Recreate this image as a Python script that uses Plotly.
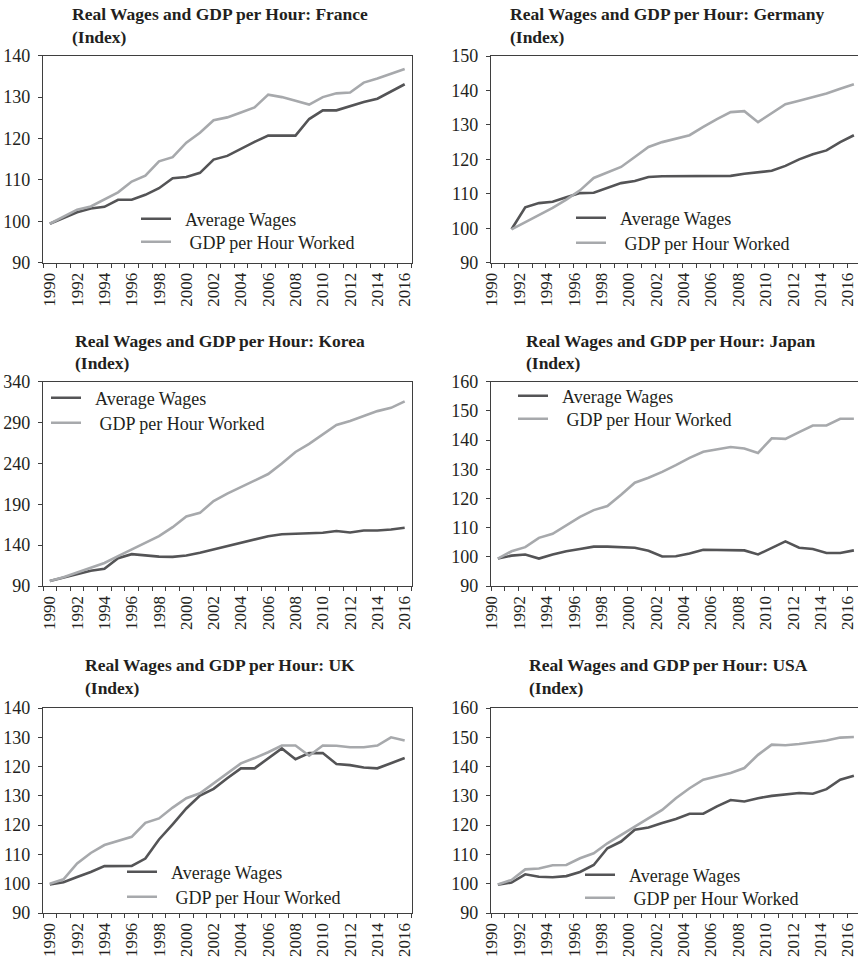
import plotly.graph_objects as go

years = list(range(1990, 2017))
years_de = list(range(1991, 2017))

france_wages = [99.4, 100.8, 102.2, 103.1, 103.5, 105.2, 105.2, 106.4, 108.0, 110.4, 110.7, 111.7, 114.9, 115.8,
                117.6, 119.2, 120.7, 120.7, 120.7, 124.7, 126.8, 126.8, 127.8, 128.8, 129.6, 131.3, 133.1]
france_gdp = [99.4, 101.2, 102.8, 103.6, 105.3, 107.0, 109.6, 111.0, 114.5, 115.5, 119.0, 121.4, 124.4, 125.1,
              126.3, 127.5, 130.6, 130.0, 129.1, 128.2, 130.0, 130.9, 131.1, 133.5, 134.5, 135.7, 136.8]

germany_wages = [99.7, 106.1, 107.3, 107.7, 109.0, 110.2, 110.3, 111.8, 113.1, 113.7, 114.9, 115.1, 115.1,
                 115.1, 115.0, 115.0, 115.2, 115.8, 116.2, 116.7, 118.1, 120.0, 121.5, 122.6, 125.0, 127.0]
germany_gdp = [99.7, 101.8, 103.7, 105.9, 108.3, 111.0, 114.6, 116.1, 117.8, 120.7, 123.6, 125.0, 126.0,
               127.0, 129.4, 131.7, 133.7, 134.0, 130.8, 133.3, 136.0, 137.0, 138.0, 139.1, 140.5, 141.8]

korea_wages = [96.2, 100.4, 104.9, 108.7, 111.1, 124.0, 129.0, 127.3, 126.0, 125.7, 127.3, 130.6, 134.8, 138.9,
               143.0, 147.2, 150.9, 153.4, 153.8, 154.3, 155.1, 157.2, 155.5, 158.0, 158.0, 159.2, 161.3]
korea_gdp = [96.2, 100.8, 106.6, 112.4, 118.2, 126.5, 134.8, 142.2, 151.0, 162.0, 175.0, 179.5, 194.0, 203.0,
             210.7, 219.0, 227.0, 240.0, 254.0, 264.0, 276.0, 287.0, 292.0, 298.0, 304.0, 308.0, 316.0]

japan_wages = [99.4, 100.4, 100.8, 99.4, 100.8, 101.9, 102.7, 103.5, 103.5, 103.4, 103.1, 102.1, 100.1, 100.2,
               101.1, 102.4, 102.3, 102.2, 102.2, 100.8, 103.1, 105.3, 103.1, 102.7, 101.3, 101.3, 102.2]
japan_gdp = [99.4, 101.9, 103.3, 106.5, 107.9, 110.9, 113.7, 116.0, 117.4, 121.3, 125.4, 127.1, 129.1, 131.4,
             133.9, 136.0, 136.8, 137.6, 137.1, 135.6, 140.6, 140.4, 142.7, 145.0, 145.0, 147.3, 147.3]

# UK values are given in the panel's axis units (its axis spans 90-160 with the printed labels below)
uk_wages = [99.7, 100.5, 102.3, 104.0, 106.0, 106.1, 106.1, 108.6, 115.1, 120.3, 125.7, 130.1, 132.4, 136.0,
            139.4, 139.4, 142.9, 146.2, 142.5, 144.6, 144.6, 140.9, 140.5, 139.7, 139.4, 141.1, 142.9]
uk_gdp = [100.0, 101.5, 106.9, 110.5, 113.2, 114.5, 116.0, 120.8, 122.3, 126.0, 129.2, 130.9, 134.3, 137.7,
          141.1, 142.9, 144.9, 147.2, 147.2, 143.7, 147.2, 147.1, 146.6, 146.6, 147.2, 150.0, 148.9]
uk_tickvals = [90, 100, 110, 120, 130, 140, 150, 160]
uk_ticktext = ["90", "100", "110", "120", "130", "120", "130", "140"]

usa_wages = [99.7, 100.4, 103.2, 102.4, 102.2, 102.6, 104.0, 106.4, 112.1, 114.4, 118.4, 119.2, 120.7, 122.1,
             123.9, 123.9, 126.4, 128.6, 128.1, 129.2, 130.0, 130.4, 131.0, 130.7, 132.3, 135.5, 136.9]
usa_gdp = [99.7, 101.3, 104.9, 105.2, 106.3, 106.4, 108.7, 110.4, 113.8, 116.7, 119.7, 122.4, 125.2, 129.2,
           132.6, 135.5, 136.6, 137.8, 139.5, 144.0, 147.5, 147.3, 147.7, 148.3, 148.9, 149.9, 150.1]

countries = ["France", "Germany", "Korea", "Japan", "UK", "USA"]
series_names = ["Average Wages", "GDP per Hour Worked"]
x_labels = [str(y) for y in range(1990, 2017, 2)]

W, H = 858, 960
FONT = "Liberation Serif, DejaVu Serif, serif"
TXT = "#231f20"
DARK = "#545456"
LIGHT = "#a7a9ac"
AX = "#3f3f3f"

def px(x):
    return x / W

def py(y):
    return 1 - y / H

panels = [
    dict(c="France", x=years, w=france_wages, g=france_gdp, xd=(43, 411.5), yd=(55.7, 262.7),
         xr=[1989.5, 2016.5], yr=[90, 140], tv=list(range(90, 141, 10)), tt=None,
         leg=(143, 219, 242), tit=(70, 14, 37), shift=0),
    dict(c="Germany", x=years_de, w=germany_wages, g=germany_gdp, xd=(491, 858), yd=(56, 262.7),
         xr=[1989.5, 2016.3], yr=[90, 150], tv=list(range(90, 151, 10)), tt=None,
         leg=(578, 218, 243), tit=(508, 14, 37), shift=-6),
    dict(c="Korea", x=years, w=korea_wages, g=korea_gdp, xd=(43, 411.5), yd=(381.7, 586),
         xr=[1989.5, 2016.5], yr=[90, 340], tv=list(range(90, 341, 50)), tt=None,
         leg=(53, 398, 423), tit=(73, 341, 363), shift=0),
    dict(c="Japan", x=years, w=japan_wages, g=japan_gdp, xd=(491, 858), yd=(381.7, 586),
         xr=[1989.5, 2016.3], yr=[90, 160], tv=list(range(90, 161, 10)), tt=None,
         leg=(520, 396, 419), tit=(524, 341, 363), shift=-6),
    dict(c="UK", x=years, w=uk_wages, g=uk_gdp, xd=(43, 411.5), yd=(708, 913),
         xr=[1989.5, 2016.5], yr=[90, 160], tv=uk_tickvals, tt=uk_ticktext,
         leg=(129, 872, 897), tit=(83, 665, 688), shift=0),
    dict(c="USA", x=years, w=usa_wages, g=usa_gdp, xd=(491, 858), yd=(708, 913),
         xr=[1989.5, 2016.3], yr=[90, 160], tv=list(range(90, 161, 10)), tt=None,
         leg=(587, 875, 898), tit=(527, 665, 688), shift=-6),
]

fig = go.Figure()
layout = dict(width=W, height=H, margin=dict(l=0, r=0, t=0, b=0, autoexpand=False),
              paper_bgcolor="white", plot_bgcolor="white",
              font=dict(family=FONT, color=TXT, size=18), showlegend=True, annotations=[])

NB = "\u00a0"
for i, p in enumerate(panels, start=1):
    sfx = "" if i == 1 else str(i)
    lg_w = "legend" if i == 1 else f"legend{2 * i - 1}"
    lg_g = f"legend{2 * i}"
    fig.add_trace(go.Scatter(x=p["x"], y=p["w"], mode="lines", name=NB * 2 + series_names[0],
                             line=dict(color=DARK, width=2.6), xaxis="x" + sfx, yaxis="y" + sfx,
                             legend=lg_w, hoverinfo="skip"))
    fig.add_trace(go.Scatter(x=p["x"], y=p["g"], mode="lines", name=NB * 3 + series_names[1],
                             line=dict(color=LIGHT, width=2.6), xaxis="x" + sfx, yaxis="y" + sfx,
                             legend=lg_g, hoverinfo="skip"))
    xa = dict(domain=[px(p["xd"][0]), px(p["xd"][1])], anchor="y" + sfx, range=p["xr"],
              tickmode="array", tickvals=list(range(1990, 2017, 2)), ticktext=x_labels,
              tickangle=-90, ticks="", tickfont=dict(size=17, family=FONT, color=TXT),
              showline=True, linecolor=AX, linewidth=1.3, mirror=True, showgrid=False, zeroline=False,
              minor=dict(tickmode="linear", tick0=1990.5, dtick=1, ticks="outside", ticklen=4,
                         tickcolor=AX, tickwidth=1.2, showgrid=False),
              ticklabelstandoff=2, ticklabelshift=p["shift"], automargin=False, ticklabeloverflow="allow")
    ya = dict(domain=[py(p["yd"][1]), py(p["yd"][0])], anchor="x" + sfx, range=p["yr"],
              tickmode="array", tickvals=p["tv"], ticktext=p["tt"] if p["tt"] else [str(v) for v in p["tv"]],
              ticks="outside", ticklen=4, tickcolor=AX, tickwidth=1.2,
              tickfont=dict(size=18, family=FONT, color=TXT),
              showline=True, linecolor=AX, linewidth=1.3, mirror=True, showgrid=False, zeroline=False,
              ticklabelstandoff=4, automargin=False)
    layout["xaxis" + sfx] = xa
    layout["yaxis" + sfx] = ya
    lx, r1, r2 = p["leg"]
    for lg, ry in ((lg_w, r1), (lg_g, r2)):
        layout[lg] = dict(x=px(lx - 7), y=py(ry), xanchor="left", yanchor="middle",
                          bgcolor="rgba(0,0,0,0)", borderwidth=0,
                          font=dict(size=18, family=FONT, color=TXT))
    tx, t1, t2 = p["tit"]
    layout["annotations"].append(dict(text=f"<b>Real Wages and GDP per Hour: {p['c']}</b>", x=px(tx), y=py(t1),
                                      xref="paper", yref="paper", xanchor="left", yanchor="middle",
                                      showarrow=False, font=dict(size=17.5, family=FONT, color=TXT)))
    layout["annotations"].append(dict(text="<b>(Index)</b>", x=px(tx), y=py(t2),
                                      xref="paper", yref="paper", xanchor="left", yanchor="middle",
                                      showarrow=False, font=dict(size=17.5, family=FONT, color=TXT)))

fig.update_layout(**layout)
fig.write_html("out.html", config={"displayModeBar": False},
               post_script="document.body.style.margin='0';document.body.style.padding='0';")
